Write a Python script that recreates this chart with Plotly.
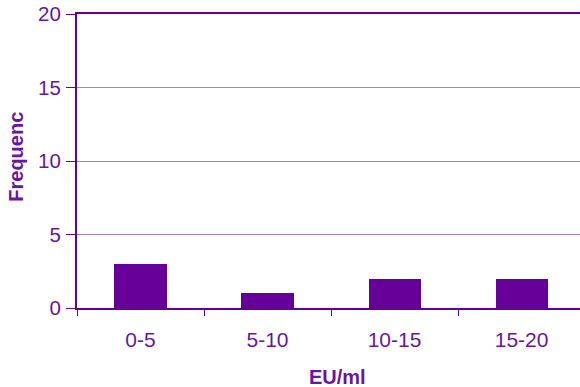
import plotly.graph_objects as go

categories = ["0-5", "5-10", "10-15", "15-20"]
frequency = [3, 1, 2, 2]
y_ticks = [0, 5, 10, 15, 20]

purple = "#660099"
text_purple = "#6A14A8"
grid_purple = "#A77FD0"

fig = go.Figure(
    go.Bar(
        x=categories,
        y=frequency,
        width=0.41,
        marker=dict(color=purple, line=dict(width=0)),
    )
)

fig.update_layout(
    width=580,
    height=387,
    margin=dict(l=77, r=0, t=14, b=79),
    paper_bgcolor="white",
    plot_bgcolor="white",
    font=dict(family="Liberation Sans, Arial, sans-serif", size=20, color=text_purple),
    showlegend=False,
    bargap=0,
)

fig.update_xaxes(
    range=[-0.5, 3.46],
    tickson="boundaries",
    ticks="outside",
    ticklen=6,
    tickwidth=1,
    tickcolor=purple,
    showline=True,
    linecolor=purple,
    linewidth=2,
    mirror=True,
    showgrid=False,
    ticklabelstandoff=12,
    tickfont=dict(size=21),
)

fig.update_yaxes(
    range=[0, 20],
    tickvals=y_ticks,
    ticks="outside",
    ticklen=9,
    tickwidth=1,
    tickcolor=purple,
    showline=True,
    linecolor=purple,
    linewidth=2,
    showgrid=True,
    gridcolor=grid_purple,
    gridwidth=1,
    zeroline=False,
    ticklabelstandoff=1,
    tickfont=dict(size=20.5),
)

fig.add_annotation(
    text="<b>Frequenc</b>", xref="paper", yref="paper",
    x=-0.123, y=0.515, xanchor="center", yanchor="middle",
    textangle=-90, showarrow=False, font=dict(size=20, color=text_purple),
)
fig.add_annotation(
    text="<b>EU/ml</b>", xref="paper", yref="paper",
    x=0.517, y=-0.235, xanchor="center", yanchor="middle",
    showarrow=False, font=dict(size=20, color=text_purple),
)

fig.write_html("out.html")
